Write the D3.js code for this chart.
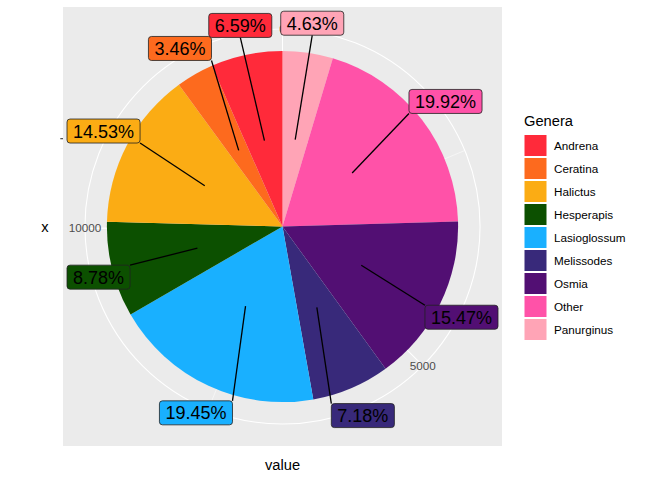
<!DOCTYPE html>
<html>
<head>
<meta charset="utf-8">
<script src="https://cdn.jsdelivr.net/npm/d3@7"></script>
<style>
  body { margin: 0; background: #fff; }
  text { font-family: "Liberation Sans", Arial, Helvetica, sans-serif; }
</style>
</head>
<body>
<svg width="672" height="480"></svg>
<script>
var genera = ["Andrena", "Ceratina", "Halictus", "Hesperapis", "Lasioglossum",
              "Melissodes", "Osmia", "Other", "Panurginus"];
var counts = [880, 462, 1941, 1173, 2599, 959, 2067, 2661, 618];
var colors = ["#FF2A3A", "#FD6A1E", "#FBAC14", "#0C5000", "#19B0FF",
              "#38297A", "#520F73", "#FF52A8", "#FFA4B6"];
var thetaBreaks = [0, 5000, 10000];
var thetaMinor = [2500, 7500, 12500];

var svg = d3.select("svg");
var px0 = 63, py0 = 7, size = 439;
var cx = px0 + size / 2, cy = py0 + size / 2;

var total = d3.sum(counts);

// ggplot stacks the last level first, so Panurginus starts at 0
var slices = [], acc = 0;
d3.range(genera.length).reverse().forEach(function(i) {
  slices.push({name: genera[i], value: counts[i], color: colors[i], start: acc, end: acc + counts[i]});
  acc += counts[i];
});

var theta = d3.scaleLinear().domain([0, total]).range([0, 2 * Math.PI]);
var r = d3.scaleLinear().domain([0.5, 1.5]).range([0, 0.4 * size]);
var rOuter = 0.45 * size;

function pt(a, rr) { return [cx + rr * Math.sin(a), cy - rr * Math.cos(a)]; }

// panel
svg.append("rect").attr("x", px0).attr("y", py0).attr("width", size).attr("height", size)
  .attr("fill", "#EBEBEB");

var grid = svg.append("g").attr("stroke", "white").attr("fill", "none");
[r(1), rOuter].forEach(function(rr) {
  grid.append("circle").attr("cx", cx).attr("cy", cy).attr("r", rr).attr("stroke-width", 1.07);
});
thetaMinor.forEach(function(v) {
  var p = pt(theta(v), rOuter);
  grid.append("line").attr("x1", cx).attr("y1", cy).attr("x2", p[0]).attr("y2", p[1]).attr("stroke-width", 0.53);
});
thetaBreaks.forEach(function(v) {
  var p = pt(theta(v), rOuter);
  grid.append("line").attr("x1", cx).attr("y1", cy).attr("x2", p[0]).attr("y2", p[1]).attr("stroke-width", 1.07);
});

// pie
var arc = d3.arc().innerRadius(0).outerRadius(r(1.5));
svg.append("g").attr("transform", "translate(" + cx + "," + cy + ")")
  .selectAll("path")
  .data(slices)
  .enter()
  .append("path")
  .attr("d", function(d) { return arc({startAngle: theta(d.start), endAngle: theta(d.end)}); })
  .attr("fill", function(d) { return d.color; });

// theta axis labels
thetaBreaks.forEach(function(v) {
  var p = pt(theta(v), rOuter);
  svg.append("text").attr("x", p[0]).attr("y", p[1]).attr("dy", "0.35em")
    .attr("text-anchor", "middle").attr("font-size", "11.7px").attr("fill", "#4D4D4D")
    .text(v);
});

// r axis tick (empty label)
svg.append("line").attr("x1", px0 - 2.7).attr("x2", px0)
  .attr("y1", cy - r(1)).attr("y2", cy - r(1))
  .attr("stroke", "#333").attr("stroke-width", 1.07);

// labels
var labG = svg.append("g");
slices.forEach(function(d) {
  var mid = theta((d.start + d.end) / 2);
  var anchor = pt(mid, r(1));
  var pos = pt(mid, r(1.67));
  var g = labG.append("g");
  var seg = g.append("line").attr("stroke", "black").attr("stroke-width", 1.3);
  var box = g.append("rect").attr("rx", 3).attr("fill", d.color)
    .attr("stroke", "#222").attr("stroke-width", 0.8);
  var t = g.append("text").attr("font-size", "18px").attr("text-anchor", "middle")
    .attr("dy", "0.36em").attr("fill", "black")
    .text((d.value / total * 100).toFixed(2) + "%");
  var w = t.node().getComputedTextLength() + 12, h = 24;
  var x = Math.max(px0 + 4 + w / 2, Math.min(px0 + size - 4 - w / 2, pos[0]));
  var y = Math.max(py0 + 4 + h / 2, Math.min(py0 + size - 4 - h / 2, pos[1]));
  t.attr("x", x).attr("y", y);
  box.attr("x", x - w / 2).attr("y", y - h / 2).attr("width", w).attr("height", h);
  // connect to the box edge point facing the anchor
  var ex = anchor[0] < x - w / 2 ? x - w / 2 : (anchor[0] > x + w / 2 ? x + w / 2 : x);
  var ey = anchor[1] < y - h / 2 ? y - h / 2 : (anchor[1] > y + h / 2 ? y + h / 2 : y);
  seg.attr("x1", ex).attr("y1", ey).attr("x2", anchor[0]).attr("y2", anchor[1]);
});

// axis titles
svg.append("text").attr("x", cx).attr("y", 470).attr("text-anchor", "middle")
  .attr("font-size", "14.7px").attr("fill", "black").text("value");
svg.append("text").attr("x", 45).attr("y", cy).attr("dy", "0.35em").attr("text-anchor", "middle")
  .attr("font-size", "14.7px").attr("fill", "black").text("x");

// legend
var leg = svg.append("g").attr("transform", "translate(524,0)");
leg.append("text").attr("x", 0).attr("y", 126).attr("font-size", "14.7px").text("Genera");
var items = leg.selectAll("g.item").data(genera).enter().append("g")
  .attr("transform", function(d, i) { return "translate(0," + (134 + i * 23) + ")"; });
items.append("rect").attr("x", 0.5).attr("y", 1).attr("width", 22).attr("height", 21)
  .attr("fill", function(d, i) { return colors[i]; });
items.append("text").attr("x", 30).attr("y", 11.5).attr("dy", "0.35em")
  .attr("font-size", "11.7px").attr("fill", "black").text(function(d) { return d; });
</script>
</body>
</html>
